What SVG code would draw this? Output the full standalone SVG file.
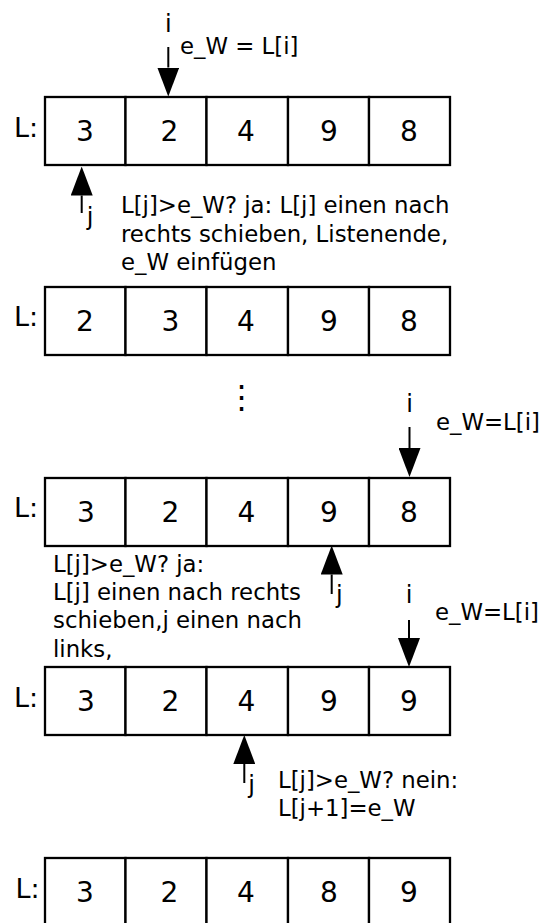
<svg xmlns="http://www.w3.org/2000/svg" width="541" height="923" viewBox="0 0 541 923">
<style>
  .cell { fill: #fff; stroke: #000; stroke-width: 2.3; }
  .num { font-family: "DejaVu Sans", sans-serif; font-size: 28px; text-anchor: middle; fill: #000; }
  .L { font-family: "DejaVu Sans", sans-serif; font-size: 27px; fill: #000; }
  .lbl { font-family: "DejaVu Sans", sans-serif; font-size: 22.8px; fill: #000; }
  .ij { font-family: "DejaVu Sans", sans-serif; font-size: 24px; text-anchor: middle; fill: #000; }
  .shaft { stroke: #000; stroke-width: 2; fill: none; marker-end: url(#head); }
</style>
<defs>
  <marker id="head" viewBox="0 0 29 22" refX="0" refY="11" markerWidth="29" markerHeight="22" markerUnits="userSpaceOnUse" orient="auto">
    <path d="M0,0 L29,11 L0,22 z" fill="#000"/>
  </marker>
  <g id="cells">
    <rect class="cell" x="45" y="0" width="80.5" height="68"/>
    <rect class="cell" x="125.5" y="0" width="81" height="68"/>
    <rect class="cell" x="206.5" y="0" width="81.5" height="68"/>
    <rect class="cell" x="288" y="0" width="81" height="68"/>
    <rect class="cell" x="369" y="0" width="81" height="68"/>
  </g>
</defs>
<rect width="541" height="923" fill="#fff"/>

<g id="row1">
  <use href="#cells" y="97"/>
  <text class="L" x="14" y="136.5">L:</text>
  <text class="num" x="85" y="140.5">3</text>
  <text class="num" x="169.5" y="140.5">2</text>
  <text class="num" x="246" y="140.5">4</text>
  <text class="num" x="329" y="140.5">9</text>
  <text class="num" x="409" y="140.5">8</text>
</g>
<g id="row2">
  <use href="#cells" y="287"/>
  <text class="L" x="14" y="326">L:</text>
  <text class="num" x="85" y="330.5">2</text>
  <text class="num" x="170.5" y="330.5">3</text>
  <text class="num" x="246" y="330.5">4</text>
  <text class="num" x="329" y="330.5">9</text>
  <text class="num" x="409" y="330.5">8</text>
</g>
<g id="row3">
  <use href="#cells" y="478"/>
  <text class="L" x="14" y="516.5">L:</text>
  <text class="num" x="86" y="521.5">3</text>
  <text class="num" x="170.5" y="521.5">2</text>
  <text class="num" x="246.5" y="521.5">4</text>
  <text class="num" x="329" y="521.5">9</text>
  <text class="num" x="409" y="521.5">8</text>
</g>
<g id="row4">
  <use href="#cells" y="667"/>
  <text class="L" x="14" y="706.5">L:</text>
  <text class="num" x="86" y="710.5">3</text>
  <text class="num" x="170.5" y="710.5">2</text>
  <text class="num" x="246.5" y="710.5">4</text>
  <text class="num" x="329" y="710.5">9</text>
  <text class="num" x="409" y="710.5">9</text>
</g>
<g id="row5">
  <use href="#cells" y="858"/>
  <text class="L" x="15.5" y="897.5">L:</text>
  <text class="num" x="85" y="901.5">3</text>
  <text class="num" x="169.5" y="901.5">2</text>
  <text class="num" x="246" y="901.5">4</text>
  <text class="num" x="329" y="901.5">8</text>
  <text class="num" x="409" y="901.5">9</text>
</g>

<g id="connectors">
  <path class="shaft" d="M168.3,47 V67.5"/>
  <path class="shaft" d="M81.7,213 V195.5"/>
  <path class="shaft" d="M409.5,427 V448"/>
  <path class="shaft" d="M331.7,594 V574.5"/>
  <path class="shaft" d="M409,620 V638"/>
  <path class="shaft" d="M244.3,783 V764"/>
</g>

<g id="labels">
  <text class="ij" x="168.3" y="32.3">i</text>
  <text class="lbl" x="180" y="54">e_W = L[i]</text>
  <text class="ij" x="90" y="225">j</text>
  <text class="lbl" x="121" y="213">L[j]&gt;e_W? ja: L[j] einen nach</text>
  <text class="lbl" x="121" y="241.5">rechts schieben, Listenende,</text>
  <text class="lbl" x="121" y="270">e_W einfügen</text>

  <text class="lbl" x="241.7" y="408" text-anchor="middle" style="font-size:32px">⋮</text>

  <text class="ij" x="409.5" y="412.3">i</text>
  <text class="lbl" x="436" y="430">e_W=L[i]</text>
  <text class="ij" x="339.3" y="603">j</text>
  <text class="lbl" x="53" y="572">L[j]&gt;e_W? ja:</text>
  <text class="lbl" x="53" y="600">L[j] einen nach rechts</text>
  <text class="lbl" x="53" y="628">schieben,j einen nach</text>
  <text class="lbl" x="53" y="656.5">links,</text>

  <text class="ij" x="409" y="603.3">i</text>
  <text class="lbl" x="435" y="620">e_W=L[i]</text>
  <text class="ij" x="251.7" y="793">j</text>
  <text class="lbl" x="278" y="788">L[j]&gt;e_W? nein:</text>
  <text class="lbl" x="278" y="816">L[j+1]=e_W</text>
</g>
</svg>
